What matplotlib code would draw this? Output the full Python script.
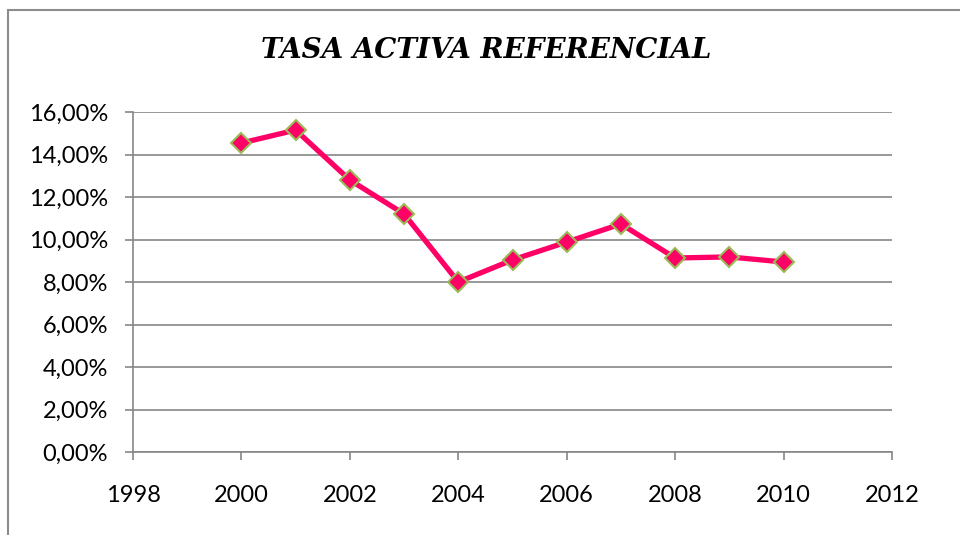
import matplotlib
matplotlib.use("Agg")
import matplotlib.pyplot as plt
from matplotlib.patches import Rectangle
from matplotlib.ticker import FuncFormatter

# datos
anios = [2000, 2001, 2002, 2003, 2004, 2005, 2006, 2007, 2008, 2009, 2010]
tasa = [14.54, 15.15, 12.80, 11.20, 8.00, 9.04, 9.88, 10.73, 9.13, 9.18, 8.94]

fig = plt.figure(figsize=(9.6, 5.35), dpi=100)
fig.patch.set_facecolor("white")

# marco exterior del grafico (solo se ven arriba e izquierda)
fig.patches.append(Rectangle((8/960, -0.1), 1.2, (525/535) + 0.1, transform=fig.transFigure,
                             fill=False, edgecolor="#8c8c8c", lw=1.5))

ax = fig.add_axes([133/960, 1 - 452/535, 759/960, 340/535])

ax.plot(anios, tasa, color="#ff0066", lw=3.8, marker="D", markersize=10,
        markerfacecolor="#ff0066", markeredgecolor="#9bbb59", markeredgewidth=1.5,
        zorder=3, clip_on=False)

ax.set_xlim(1998, 2012)
ax.set_ylim(0, 16)
ax.set_xticks(range(1998, 2013, 2))
ax.set_yticks(range(0, 17, 2))
ax.yaxis.set_major_formatter(FuncFormatter(lambda v, p: ("%.2f%%" % v).replace(".", ",")))

ax.grid(axis="y", color="#868686", lw=1.2)
ax.set_axisbelow(True)
for s in ["top", "right"]:
    ax.spines[s].set_visible(False)
for s in ["left", "bottom"]:
    ax.spines[s].set_color("#868686")
    ax.spines[s].set_linewidth(1.2)

ax.tick_params(axis="both", direction="out", length=6, width=1.2, color="#868686",
               labelsize=17, labelcolor="black")
ax.tick_params(axis="x", pad=18)
ax.tick_params(axis="y", pad=12)
for lab in ax.get_xticklabels() + ax.get_yticklabels():
    lab.set_fontfamily("Lato")

fig.text(486/960, 1 - 51/535, "TASA ACTIVA REFERENCIAL", ha="center", va="center",
         fontsize=20, fontweight="bold", fontstyle="italic", family="DejaVu Serif")

fig.savefig("out.png", dpi=100)
